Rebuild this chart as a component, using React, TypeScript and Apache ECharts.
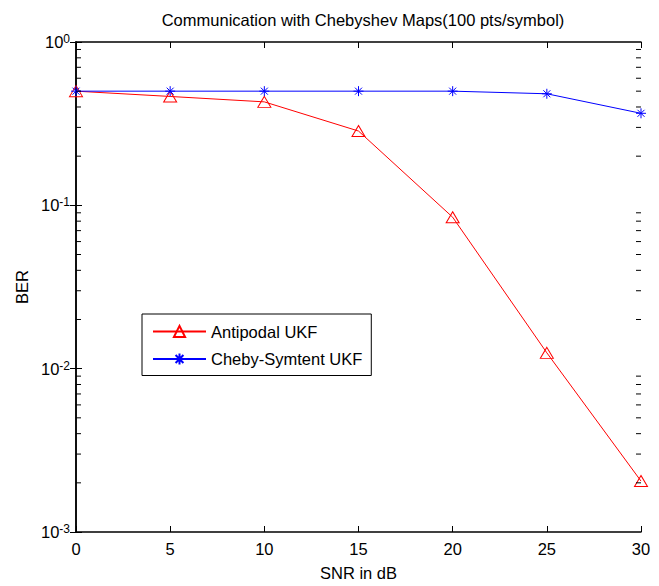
import React, { useEffect, useRef } from "react";
import * as echarts from "echarts";

const snr = [0, 5, 10, 15, 20, 25, 30];
const antipodalBER = [0.5, 0.464, 0.43, 0.285, 0.0846, 0.0125, 0.00205];
const chebyBER = [0.5, 0.5, 0.5, 0.5, 0.5, 0.482, 0.366];
const seriesNames = ["Antipodal UKF", "Cheby-Symtent UKF"];
const minorTickValues = [0.001, 0.01, 0.1].flatMap((d) => [2, 3, 4, 5, 6, 7, 8, 9].map((m) => m * d));

const FONT = "'Liberation Sans', Arial, sans-serif";
const FS = 16.5;

export default function App() {
  const ref = useRef<HTMLDivElement>(null);
  useEffect(() => {
    const chart = echarts.init(ref.current!, undefined, { renderer: "svg" });
    const axisLine = { show: true, lineStyle: { color: "#000", width: 1.5 } };
    const yLabel = {
      color: "#000",
      margin: 6,
      formatter: (v: number) => "{b|10}{s|" + Math.round(Math.log10(v)) + "}",
      rich: {
        b: { fontSize: FS, fontFamily: FONT, color: "#000", lineHeight: 18, padding: [7, 0, 7, 0] },
        s: { fontSize: 12, fontFamily: FONT, color: "#000", lineHeight: 12, verticalAlign: "top" },
      },
    };
    chart.setOption({
      animation: false,
      backgroundColor: "#fff",
      textStyle: { fontFamily: FONT },
      title: {
        text: "Communication with Chebyshev Maps(100 pts/symbol)",
        left: 358,
        textAlign: "center",
        top: 6,
        textStyle: { fontSize: FS, fontWeight: "normal", color: "#000", fontFamily: FONT },
      },
      grid: { left: 76, right: 18, top: 42, bottom: 49 },
      legend: {
        orient: "vertical",
        left: 142,
        top: 314,
        padding: [9, 9, 8, 10],
        itemGap: 10.5,
        itemWidth: 53,
        itemHeight: 14,
        borderColor: "#000",
        borderWidth: 1,
        backgroundColor: "#fff",
        textStyle: { fontSize: FS, color: "#000", fontFamily: FONT },
        data: seriesNames,
      },
      xAxis: [
        {
          type: "value",
          min: 0,
          max: 30,
          interval: 5,
          name: "SNR in dB",
          nameLocation: "middle",
          nameGap: 32,
          nameTextStyle: { fontSize: FS, color: "#000", fontFamily: FONT },
          axisLine,
          axisTick: { show: true, inside: true, length: 6, lineStyle: { color: "#000" } },
          axisLabel: { color: "#000", fontSize: FS, fontFamily: FONT, margin: 8 },
          splitLine: { show: false },
        },
        {
          type: "value",
          position: "top",
          min: 0,
          max: 30,
          interval: 5,
          axisLine,
          axisTick: { show: true, inside: true, length: 6, lineStyle: { color: "#000" } },
          axisLabel: { show: false },
          splitLine: { show: false },
        },
      ],
      yAxis: [
        {
          type: "log",
          logBase: 10,
          min: 0.001,
          max: 1,
          name: "BER",
          nameLocation: "middle",
          nameGap: 44,
          nameRotate: 90,
          nameTextStyle: { fontSize: FS, color: "#000", fontFamily: FONT },
          axisLine,
          axisTick: { show: true, inside: true, length: 6, lineStyle: { color: "#000" } },
          axisLabel: yLabel,
          splitLine: { show: false },
        },
        {
          type: "log",
          logBase: 10,
          position: "right",
          min: 0.001,
          max: 1,
          axisLine,
          axisTick: { show: true, inside: true, length: 6, lineStyle: { color: "#000" } },
          axisLabel: { show: false },
          splitLine: { show: false },
        },
      ],
      series: [
        {
          type: "custom",
          silent: true,
          clip: false,
          z: 10,
          data: minorTickValues.map((v) => [15, v]),
          renderItem: (params: any, api: any) => {
            const v = api.value(1);
            const l = api.coord([0, v]);
            const r = api.coord([30, v]);
            const style = { stroke: "#000", lineWidth: 1 };
            return {
              type: "group",
              children: [
                { type: "line", shape: { x1: l[0], y1: l[1], x2: l[0] + 5, y2: l[1] }, style },
                { type: "line", shape: { x1: r[0] - 5, y1: r[1], x2: r[0], y2: r[1] }, style },
              ],
            };
          },
        },
        {
          name: seriesNames[0],
          type: "line",
          data: snr.map((x, i) => [x, antipodalBER[i]]),
          symbol: "triangle",
          symbolSize: [13, 11],
          lineStyle: { color: "#ff0000", width: 1 },
          itemStyle: { color: "none", borderColor: "#ff0000", borderWidth: 1 },
          z: 3,
        },
        {
          name: seriesNames[1],
          type: "line",
          data: snr.map((x, i) => [x, chebyBER[i]]),
          symbol: "path://M5,0L5,10M0,5L10,5M1.5,1.5L8.5,8.5M1.5,8.5L8.5,1.5",
          symbolSize: 10,
          lineStyle: { color: "#0000ff", width: 1 },
          itemStyle: { color: "none", borderColor: "#0000ff", borderWidth: 1 },
          z: 4,
        },
      ],
    });
    return () => chart.dispose();
  }, []);
  return <div ref={ref} style={{ width: 659, height: 586, position: "absolute", left: 0, top: 0 }} />;
}
